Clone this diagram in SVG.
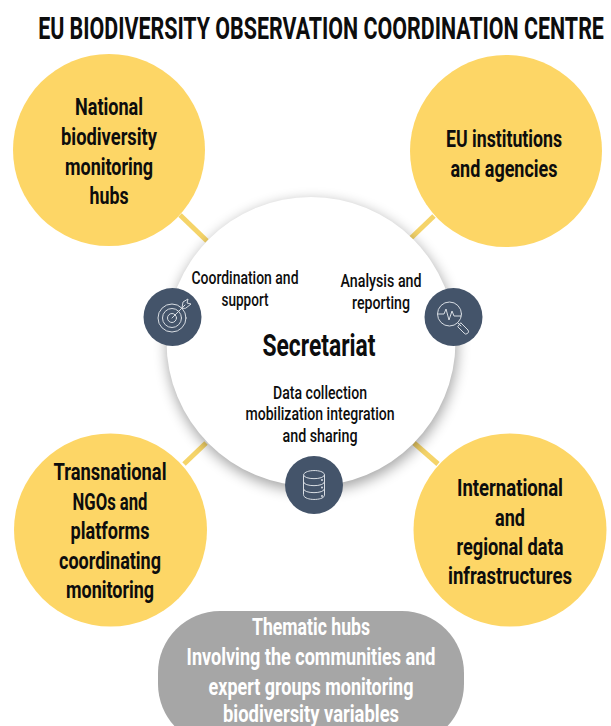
<svg xmlns="http://www.w3.org/2000/svg" width="611" height="726" viewBox="0 0 611 726">
<defs>
<filter id="sh" x="-20%" y="-20%" width="140%" height="140%"><feGaussianBlur stdDeviation="7"/></filter>
<clipPath id="page"><rect width="611" height="726"/></clipPath>
</defs>
<style>
text{font-family:"Roboto","Liberation Sans",sans-serif;text-anchor:middle;fill:#0d0d0d}
.t{font-size:31px;font-weight:700}
.hub{fill:#fdd666}
.b{font-size:24px;font-weight:700}
.s{font-size:18px;font-weight:500}
.sec{font-size:31px;font-weight:700}
.w{fill:#fff;font-size:23px;font-weight:700}
.ic{fill:#44546a}
.g{fill:none;stroke:#d8dde3;stroke-width:1;stroke-linecap:round;stroke-linejoin:round}
.dot{fill:#d8dde3}
.link{stroke:#f5d469;stroke-width:5;fill:none}
</style>
<rect width="611" height="726" fill="#fff"/>
<g id="connectors">
<path class="link" d="M180 215L207 241"/>
<path class="link" d="M434 216L410 239"/>
<path class="link" d="M206 443L184 464"/>
<path class="link" d="M414 443L438 464"/>
</g>
<text id="title" class="t" transform="translate(321 38.500) scale(.64 1)" textLength="884" lengthAdjust="spacingAndGlyphs">EU BIODIVERSITY OBSERVATION COORDINATION CENTRE</text>
<g id="hub-national">
<circle class="hub" cx="109" cy="150" r="96"/>
<text class="b" transform="translate(109 114.500) scale(.75 1)" textLength="90.700" lengthAdjust="spacingAndGlyphs">National</text>
<text class="b" transform="translate(109 144.500) scale(.75 1)" textLength="128" lengthAdjust="spacingAndGlyphs">biodiversity</text>
<text class="b" transform="translate(109 174.500) scale(.75 1)" textLength="117.300" lengthAdjust="spacingAndGlyphs">monitoring</text>
<text class="b" transform="translate(109 203.500) scale(.75 1)" textLength="52" lengthAdjust="spacingAndGlyphs">hubs</text>
</g>
<g id="hub-eu">
<circle class="hub" cx="506" cy="151" r="96"/>
<text class="b" transform="translate(504 146.500) scale(.75 1)" textLength="154.700" lengthAdjust="spacingAndGlyphs">EU institutions</text>
<text class="b" transform="translate(504 176.500) scale(.75 1)" textLength="142.700" lengthAdjust="spacingAndGlyphs">and agencies</text>
</g>
<g id="hub-transnational">
<circle class="hub" cx="110.500" cy="530" r="96.500"/>
<text class="b" transform="translate(110 479.500) scale(.75 1)" textLength="150.700" lengthAdjust="spacingAndGlyphs">Transnational</text>
<text class="b" transform="translate(110 509.500) scale(.75 1)" textLength="100" lengthAdjust="spacingAndGlyphs">NGOs and</text>
<text class="b" transform="translate(110 538.500) scale(.75 1)" textLength="105.300" lengthAdjust="spacingAndGlyphs">platforms</text>
<text class="b" transform="translate(110 568.500) scale(.75 1)" textLength="136" lengthAdjust="spacingAndGlyphs">coordinating</text>
<text class="b" transform="translate(110 597.500) scale(.75 1)" textLength="117.300" lengthAdjust="spacingAndGlyphs">monitoring</text>
</g>
<g id="hub-international">
<circle class="hub" cx="510" cy="530" r="96.500"/>
<text class="b" transform="translate(510 495.500) scale(.75 1)" textLength="141.300" lengthAdjust="spacingAndGlyphs">International</text>
<text class="b" transform="translate(510 525.500) scale(.75 1)" textLength="40" lengthAdjust="spacingAndGlyphs">and</text>
<text class="b" transform="translate(510 554.500) scale(.75 1)" textLength="142.700" lengthAdjust="spacingAndGlyphs">regional data</text>
<text class="b" transform="translate(510 583.500) scale(.75 1)" textLength="165.300" lengthAdjust="spacingAndGlyphs">infrastructures</text>
</g>
<g id="secretariat">
<circle cx="312" cy="346" r="145" fill="#000" opacity=".36" filter="url(#sh)"/>
<circle cx="311" cy="341.500" r="144.500" fill="#fff"/>
<text class="sec" transform="translate(319 355.500) scale(.75 1)" textLength="150.700" lengthAdjust="spacingAndGlyphs">Secretariat</text>
<text class="s" transform="translate(245 283.500) scale(.8 1)" textLength="133.800" lengthAdjust="spacingAndGlyphs">Coordination and</text>
<text class="s" transform="translate(245 305.500) scale(.8 1)" textLength="58.800" lengthAdjust="spacingAndGlyphs">support</text>
<text class="s" transform="translate(381 286.500) scale(.8 1)" textLength="101.300" lengthAdjust="spacingAndGlyphs">Analysis and</text>
<text class="s" transform="translate(381 308.500) scale(.8 1)" textLength="72.500" lengthAdjust="spacingAndGlyphs">reporting</text>
<text class="s" transform="translate(320 398.500) scale(.8 1)" textLength="117.500" lengthAdjust="spacingAndGlyphs">Data collection</text>
<text class="s" transform="translate(320 419.500) scale(.8 1)" textLength="186.300" lengthAdjust="spacingAndGlyphs">mobilization integration</text>
<text class="s" transform="translate(320 441.500) scale(.8 1)" textLength="93.800" lengthAdjust="spacingAndGlyphs">and sharing</text>
</g>
<g id="icon-target">
<circle class="ic" cx="172.500" cy="317" r="29"/>
<circle class="g" cx="172" cy="318" r="14"/>
<circle class="g" cx="172" cy="318" r="9.500"/>
<circle class="g" cx="172" cy="318" r="4.500"/>
<path class="g" d="M172 318L185 305M182 308L183 302L188 299L187 303L191 304L186 308Z"/>
</g>
<g id="icon-analysis">
<circle class="ic" cx="453.500" cy="317" r="29"/>
<circle class="g" cx="449.500" cy="314" r="12"/>
<path class="g" d="M438 314H444L446 309L449 320L452 311L454 316H461M458 323L461 326M461 323L468 330A2.500 2.500 0 0 1 464 333L458 327Z"/>
</g>
<g id="icon-data">
<circle class="ic" cx="314" cy="485" r="29"/>
<path class="g" d="M303.500 475C303.500 469 324.500 469 324.500 475V495C324.500 501 303.500 501 303.500 495ZM303.500 475C303.500 480 324.500 480 324.500 475M303.500 482C303.500 487 324.500 487 324.500 482M303.500 489C303.500 494 324.500 494 324.500 489"/>
<circle class="dot" cx="322" cy="480" r="1"/><circle class="dot" cx="322" cy="487.500" r="1"/><circle class="dot" cx="322" cy="496" r="1"/>
</g>
<g id="thematic-hubs" clip-path="url(#page)">
<rect x="158" y="611" width="306" height="135" rx="62" fill="#a6a6a6"/>
<text class="w" transform="translate(311 635) scale(.8 1)" textLength="147.500" lengthAdjust="spacingAndGlyphs">Thematic hubs</text>
<text class="w" transform="translate(311 665) scale(.8 1)" textLength="311" lengthAdjust="spacingAndGlyphs">Involving the communities and</text>
<text class="w" transform="translate(311 695) scale(.8 1)" textLength="256" lengthAdjust="spacingAndGlyphs">expert groups monitoring</text>
<text class="w" transform="translate(311 721.500) scale(.8 1)" textLength="220" lengthAdjust="spacingAndGlyphs">biodiversity variables</text>
</g>
</svg>
